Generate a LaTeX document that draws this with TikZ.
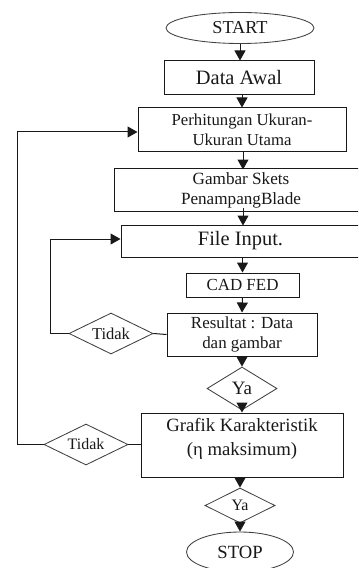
\documentclass[tikz,border=0pt]{standalone}
\usepackage{fontspec}
\setmainfont{Liberation Serif}
\usetikzlibrary{shapes.geometric,arrows.meta}
\tikzset{
  txt/.style 2 args={font=\fontsize{#1}{#2}\selectfont,align=center,text=black!90},
  boxnode/.style={draw=black!90,line width=1bp,rectangle,inner sep=0pt,minimum width=#1},
  boxnode/.default=100bp,
  dia/.style={draw=black!75,line width=0.85bp,diamond,inner sep=0pt,aspect=2},
  oval/.style={draw=black!75,line width=0.85bp,ellipse,inner sep=0pt},
  flow/.style={line width=1bp,draw=black!90,-{Triangle[length=10bp,width=11bp]}},
  plain/.style={line width=1bp,draw=black!90}
}
\begin{document}
\begin{tikzpicture}[x=1bp,y=-1bp]
\useasboundingbox (0,0) rectangle (358,568);
\clip (0,0) rectangle (358,568);
\fill[white] (0,0) rectangle (358,568);

\node[oval,minimum width=148bp,minimum height=31bp,txt={18.3}{20}] (start) at (240,28) {START};
\node[boxnode=150bp,minimum height=34bp,txt={20.5}{22}] (data) at (239,78) {Data Awal};
\node[boxnode=208bp,minimum height=43bp,txt={16.8}{20.5}] (perh) at (242,129.5) {Perhitungan Ukuran-\\Ukuran Utama};
\node[boxnode=254bp,minimum height=42bp,txt={17.2}{20}] (gambar) at (241,190) {Gambar Skets\\PenampangBlade};
\node[boxnode=245bp,minimum height=32bp,txt={20.5}{22}] (file) at (243.5,241) {\hspace{-6bp}File Input.};
\node[boxnode=113bp,minimum height=24bp,txt={17}{20}] (cad) at (242.5,285) {CAD FED};
\node[boxnode=150bp,minimum height=43bp,txt={17}{20}] (res) at (242,334.5) {Resultat : Data\\dan gambar};
\node[dia,minimum width=70bp,minimum height=43bp,txt={19}{20}] (ya1) at (242,388.5) {Ya};
\node[boxnode=202bp,minimum height=64bp,txt={18.8}{24}] (graf) at (242,445) {Grafik Karakteristik\\(η maksimum)\\[-8bp]\mbox{}};
\node[dia,minimum width=70bp,minimum height=35bp,txt={16}{18}] (ya2) at (240,505.5) {Ya};
\node[oval,minimum width=107bp,minimum height=40bp,txt={18.7}{20}] (stop) at (240,552) {STOP};
\node[dia,minimum width=84bp,minimum height=41bp,txt={16.6}{20}] (t1) at (111,333.5) {Tidak};
\node[dia,minimum width=84bp,minimum height=41bp,txt={16}{20}] (t2) at (86,444.5) {Tidak};

\coordinate (c1) at (50,239);
\coordinate (c2) at (17,132);

\draw[flow] (start) -- (start |- data.north);
\draw[flow] (data.south -| perh.south) -- (perh.north);
\draw[flow] (perh.south) ++(1,0) -- ++(0,18);
\draw[flow] (gambar.south -| perh.south) ++(1,-4) -- ++(0,18);
\draw[flow] (file.south -| cad.north) -- (cad.north);
\draw[flow] (cad.south) -- (res.north);
\draw[flow] (res.south) -- (ya1.north);
\draw[flow] (ya1.south) -- (graf.north);
\draw[flow] (graf.south -| ya2.north) -- (ya2.north);
\draw[flow] (ya2.south) -- (stop.north);
\draw[plain] (res.west) -- (t1.east);
\draw[plain] (graf.west |- t2.east) -- (t2.east);
\draw[flow] (t1.west) -| (c1) -- (c1 -| file.west);
\draw[flow] (t2.west) -| (c2) -- (c2 -| perh.west);
\end{tikzpicture}
\end{document}
